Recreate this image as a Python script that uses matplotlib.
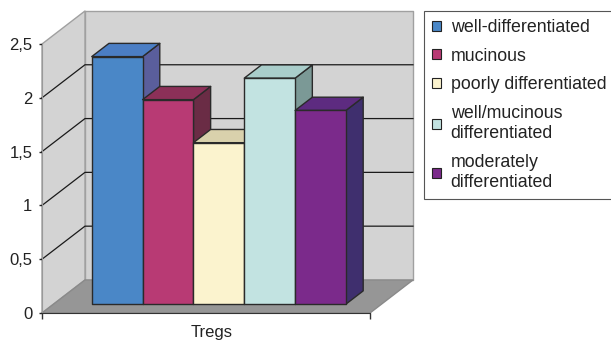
import matplotlib
matplotlib.use("Agg")
import matplotlib.pyplot as plt
from matplotlib.patches import Polygon, Patch

plt.rcParams['font.family'] = ['Liberation Sans', 'DejaVu Sans']
plt.rcParams['font.size'] = 12

# data
group = 'Tregs'
labels = ['well-differentiated', 'mucinous', 'poorly differentiated',
          'well/mucinous\ndifferentiated', 'moderately\ndifferentiated']
values = [2.3, 1.9, 1.5, 2.1, 1.8]
yticks = [0, 0.5, 1, 1.5, 2, 2.5]
ytick_labels = ['0', '0,5', '1', '1,5', '2', '2,5']

# front / top / side shades for each bar
front_cols = ['#4a87c7', '#b83a74', '#fbf3ce', '#c2e3e1', '#7b2a8b']
top_cols = ['#4b7ec4', '#8c3058', '#d9d1ac', '#a9cdca', '#5d2b80']
side_cols = ['#5a5e9c', '#6a2c45', '#bdb594', '#7b9996', '#3f2f6e']

XMIN, XMAX = -0.75, 5.70
YMAX = 2.5
DX, DY = 0.845, 0.307          # offset of the full depth
Z0, Z1 = 0.27, 0.67            # bar depth range


def proj(x, y, z):
    return (x + z * DX, y + z * DY)


fig = plt.figure(figsize=(6.11, 3.40), dpi=100)
ax = fig.add_axes([42 / 611, 27 / 340, 328 / 611, 269 / 340])
ax.set_xlim(XMIN, XMAX)
ax.set_ylim(0, YMAX)
ax.patch.set_visible(False)

def poly(pts, fc, ec, z, lw=1.0):
    p = Polygon(pts, closed=True, facecolor=fc, edgecolor=ec, lw=lw,
                zorder=z, clip_on=False, joinstyle='round')
    ax.add_patch(p)

# walls and floor
wall_c, wall_ec = '#d3d3d3', '#a0a0a0'
poly([proj(XMIN, 0, 1), proj(XMAX, 0, 1), proj(XMAX, YMAX, 1), proj(XMIN, YMAX, 1)],
     wall_c, wall_ec, 1)
poly([proj(XMIN, 0, 0), proj(XMIN, 0, 1), proj(XMIN, YMAX, 1), proj(XMIN, YMAX, 0)],
     wall_c, wall_ec, 1)
poly([proj(XMIN, 0, 0), proj(XMAX, 0, 0), proj(XMAX, 0, 1), proj(XMIN, 0, 1)],
     '#969696', '#8a8a8a', 1.5)

# gridlines on side and back wall
for v in yticks[1:-1]:
    pts = [proj(XMIN, v, 0), proj(XMIN, v, 1), proj(XMAX, v, 1)]
    ax.plot([p[0] for p in pts], [p[1] for p in pts], color='#1a1a1a',
            lw=0.9, zorder=2, clip_on=False)

# bars, left to right so each one covers the previous side face
for i, (v, fc, tc, sc) in enumerate(zip(values, front_cols, top_cols, side_cols)):
    x0, x1 = i, i + 1
    ec = '#2a2a2a'
    z = 3 + i
    poly([proj(x1, 0, Z0), proj(x1, 0, Z1), proj(x1, v, Z1), proj(x1, v, Z0)], sc, ec, z)
    poly([proj(x0, v, Z0), proj(x1, v, Z0), proj(x1, v, Z1), proj(x0, v, Z1)], tc, ec, z)
    poly([proj(x0, 0, Z0), proj(x1, 0, Z0), proj(x1, v, Z0), proj(x0, v, Z0)], fc, ec, z)

# axes
for s in ['top', 'right']:
    ax.spines[s].set_visible(False)
ax.spines['left'].set_color('#999999')
ax.spines['bottom'].set_color('#333333')
ax.spines['bottom'].set_zorder(20)
ax.spines['left'].set_zorder(20)

ax.set_yticks(yticks)
ax.set_yticklabels(ytick_labels, color='#222222')
ax.tick_params(axis='y', direction='out', length=2.5, width=1, color='#222222', pad=4.5)

ax.set_xticks([2.58])
ax.set_xticklabels([group], color='#222222')
ax.set_xticks([XMIN, XMAX], minor=True)
ax.tick_params(axis='x', which='major', length=0, pad=9)
ax.tick_params(axis='x', which='minor', direction='out', length=4, width=1, color='#333333')

handles = [Patch(facecolor=c, edgecolor='#222222', lw=0.8) for c in front_cols]
leg = fig.legend(handles, labels, loc='upper left',
                 bbox_to_anchor=(424 / 611, 1 - 11 / 340), borderaxespad=0,
                 fancybox=False, edgecolor='#555555', framealpha=1,
                 borderpad=0.45, handlelength=0.5, handleheight=0.5,
                 handletextpad=0.55, labelspacing=0.66, fontsize=12.8)
leg.get_frame().set_linewidth(0.8)
for t in leg.get_texts():
    t.set_color('#222222')
    t.set_linespacing(1.25)

fig.savefig('out.png', dpi=100)
